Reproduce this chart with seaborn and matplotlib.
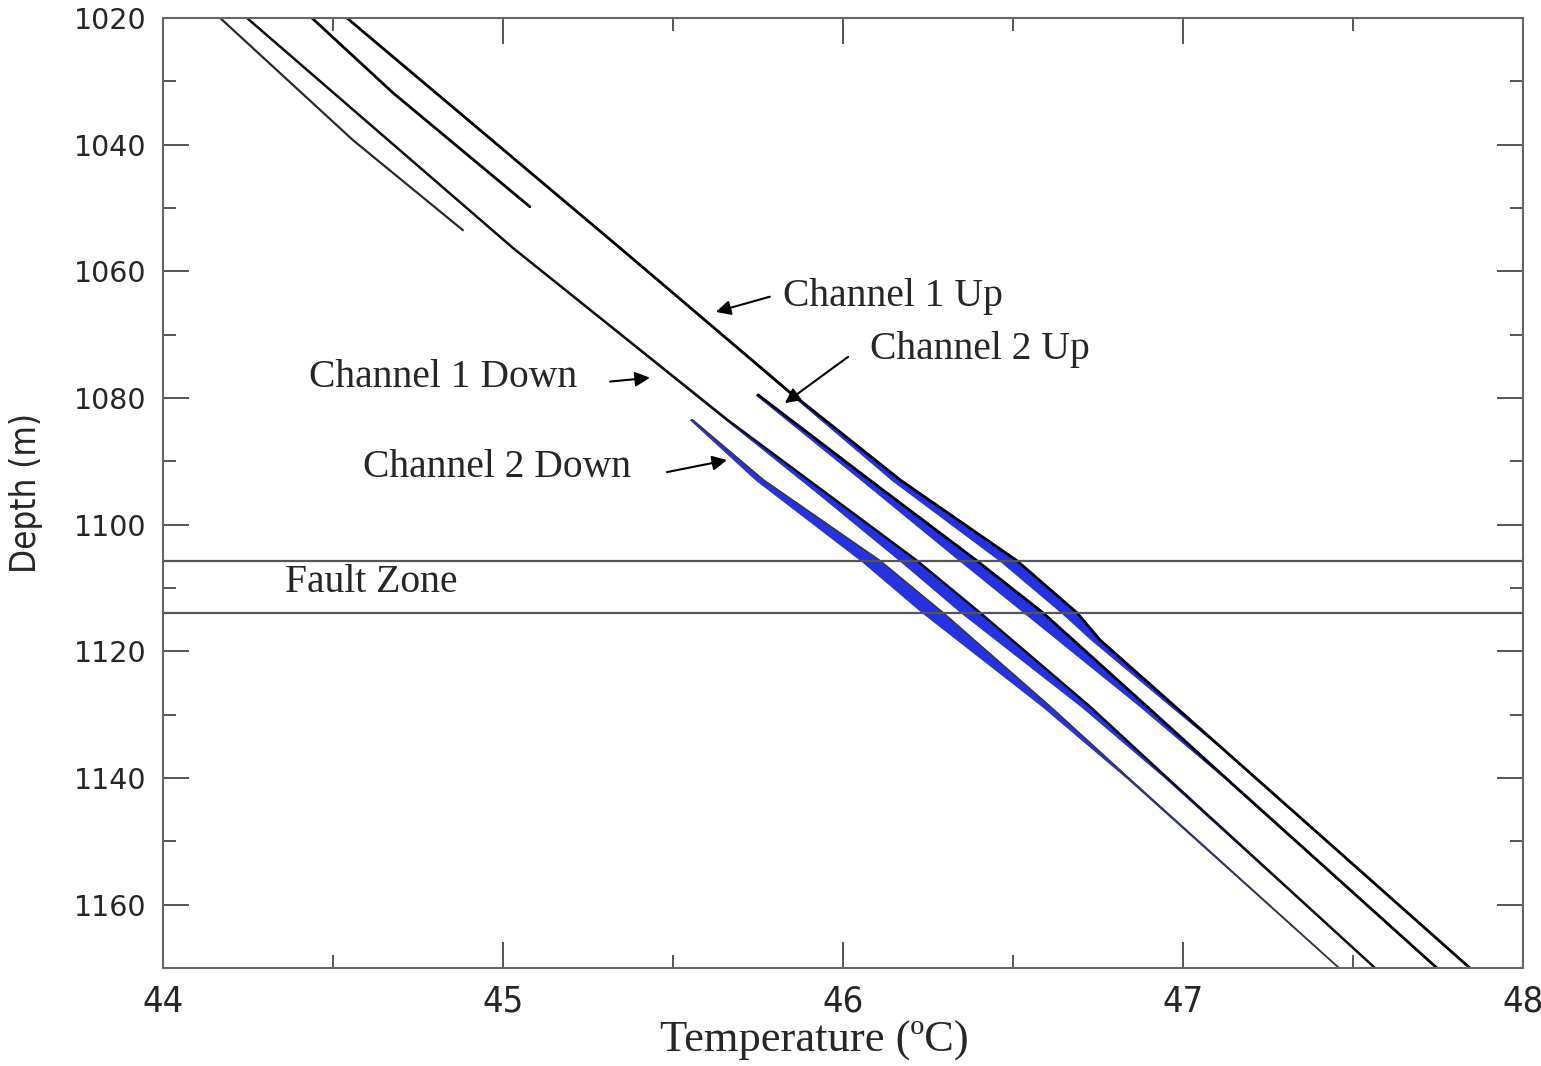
import numpy as np
import matplotlib
matplotlib.use('Agg')
import matplotlib.pyplot as plt
from matplotlib.ticker import MultipleLocator
import seaborn as sns

# temperature (degC) / depth (m) picks read off the logs
# earlier runs, only the top part
run_a_temp = [44.168, 44.559, 44.882]
run_a_depth = [1020, 1039.3, 1053.5]
run_c_temp = [44.438, 44.676, 45.079]
run_c_depth = [1020, 1031.8, 1049.8]

ch1_down_temp = [44.247, 45.029, 45.659, 45.95, 46.218, 46.403, 46.726, 46.954, 47.565]
ch1_down_depth = [1020, 1056.3, 1083.4, 1095.0, 1105.7, 1113.9, 1128.7, 1140, 1170]
ch1_down_spread = [0, 0, 0.004, 0.025, 0.05, 0.055, 0.025, 0.006, 0]

ch1_up_temp = [44.541, 45.344, 45.835, 46.17, 46.512, 46.688, 46.756, 47.109, 47.844]
ch1_up_depth = [1020, 1056.3, 1078.7, 1093.0, 1105.7, 1113.9, 1118.2, 1135, 1170]
ch1_up_spread = [0, 0, 0.004, 0.025, 0.05, 0.045, 0.025, 0.003, 0]

ch2_down_temp = [45.556, 45.765, 46.109, 46.294, 46.609, 46.840, 47.459]
ch2_down_depth = [1083.4, 1092.9, 1105.7, 1113.9, 1128.7, 1140, 1170]
ch2_down_spread = [0.006, 0.022, 0.055, 0.06, 0.022, 0.005, 0]

ch2_up_temp = [45.750, 46.08, 46.394, 46.588, 46.894, 47.126, 47.747]
ch2_up_depth = [1079.5, 1093.0, 1105.7, 1113.9, 1128.7, 1140, 1170]
ch2_up_spread = [0.006, 0.025, 0.05, 0.055, 0.02, 0.004, 0]

fault_top = 1105.7
fault_bottom = 1113.9

sns.set_theme(style='white')
plt.rcParams['font.family'] = ['DejaVu Sans']

fig = plt.figure(figsize=(15.41, 10.66), dpi=100)
ax = fig.add_axes([0.1058, 0.0919, 0.8825, 0.8912])

blue = '#2631e0'
curves = [
    (ch2_down_temp, ch2_down_depth, ch2_down_spread, 1.3, '#3a3a3a'),
    (ch1_down_temp, ch1_down_depth, ch1_down_spread, 1.8, '#111111'),
    (ch2_up_temp, ch2_up_depth, ch2_up_spread, 2.0, '#000000'),
    (ch1_up_temp, ch1_up_depth, ch1_up_spread, 2.0, '#000000'),
]
for t, d, s, lw, col in curves:
    t = np.array(t)
    s = np.array(s)
    ax.fill_betweenx(d, t - s, t, color=blue, lw=0.8, edgecolor=blue)
    sns.lineplot(x=t, y=d, sort=False, estimator=None, color=col, lw=lw, ax=ax)

sns.lineplot(x=run_a_temp, y=run_a_depth, sort=False, estimator=None, color='#2a2a2a', lw=1.6, ax=ax)
sns.lineplot(x=run_c_temp, y=run_c_depth, sort=False, estimator=None, color='#000000', lw=2.0, ax=ax)

ax.axhline(fault_top, color='#555555', lw=1.6)
ax.axhline(fault_bottom, color='#555555', lw=1.6)

ax.set_xlim(44, 48)
ax.set_ylim(1170, 1020)
ax.xaxis.set_major_locator(MultipleLocator(1))
ax.xaxis.set_minor_locator(MultipleLocator(0.5))
ax.yaxis.set_major_locator(MultipleLocator(20))
ax.yaxis.set_minor_locator(MultipleLocator(10))
ax.tick_params(which='both', direction='in', top=True, right=True, bottom=True, left=True,
               color='#555555', width=1.4)
ax.tick_params(which='major', length=19)
ax.tick_params(which='minor', length=9.5)
ax.tick_params(axis='x', pad=12)
ax.tick_params(axis='y', pad=12)
for sp in ax.spines.values():
    sp.set_color('#666666')
    sp.set_linewidth(1.5)

for lbl in ax.get_yticklabels():
    lbl.set_fontsize(20.5)
    lbl.set_fontfamily(['DejaVu Sans'])
for lbl in ax.get_xticklabels():
    lbl.set_fontsize(26)
    lbl.set_fontfamily(['DejaVu Sans'])
    lbl.set_fontstretch('condensed')

ax.set_xlabel('Temperature (ºC)', fontsize=32, family=['Liberation Serif', 'DejaVu Serif'])
ax.set_ylabel('Depth (m)', fontsize=25, family=['DejaVu Sans'], fontstretch='condensed')
ax.xaxis.set_label_coords(0.479, -0.055)
ax.yaxis.set_label_coords(-0.088, 0.5)

serif = ['Liberation Serif', 'DejaVu Serif']
ax.text(45.824, 1064.0, 'Channel 1 Up', fontsize=28.5, family=serif, va='center')
ax.text(46.079, 1072.4, 'Channel 2 Up', fontsize=28.5, family=serif, va='center')
ax.text(44.429, 1076.8, 'Channel 1 Down', fontsize=28.5, family=serif, va='center')
ax.text(44.588, 1091.0, 'Channel 2 Down', fontsize=28.5, family=serif, va='center')
ax.text(44.359, 1109.2, 'Fault Zone', fontsize=28.5, family=serif, va='center')

arrow = dict(arrowstyle='-|>', color='black', lw=1.5, mutation_scale=22, shrinkA=0, shrinkB=0)
ax.annotate('', xy=(45.626, 1066.4), xytext=(45.785, 1064.0), arrowprops=arrow)
ax.annotate('', xy=(45.829, 1080.8), xytext=(46.015, 1073.5), arrowprops=arrow)
ax.annotate('', xy=(45.432, 1076.8), xytext=(45.315, 1077.4), arrowprops=arrow)
ax.annotate('', xy=(45.659, 1089.8), xytext=(45.482, 1091.7), arrowprops=arrow)

fig.savefig('out.png', dpi=100)
